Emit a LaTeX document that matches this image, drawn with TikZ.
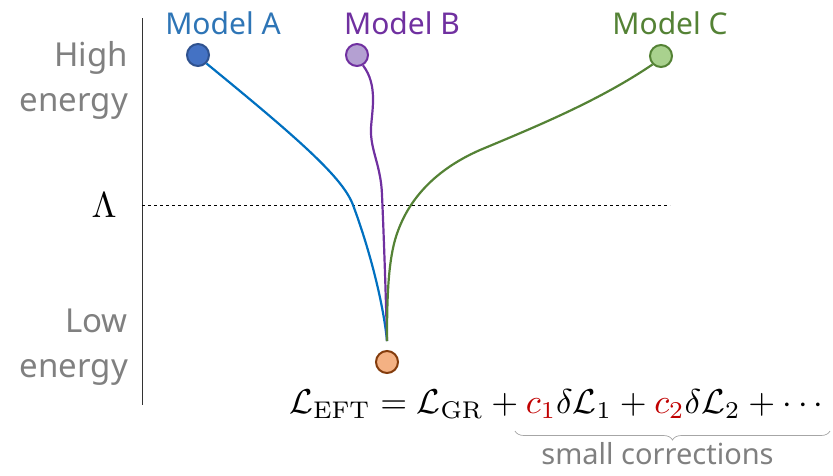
\documentclass[tikz,border=0pt]{standalone}
\usepackage{amsmath,amssymb}
\usepackage[no-math]{fontspec}
\setmainfont{Noto Sans}
\usetikzlibrary{arrows.meta,calc,decorations.pathreplacing,positioning}

\definecolor{modelAblue}{HTML}{2E75B6}
\definecolor{modelAfill}{HTML}{4472C4}
\definecolor{modelAdraw}{HTML}{2F528F}
\definecolor{lineblue}{HTML}{0070C0}
\definecolor{modelBpurple}{HTML}{7030A0}
\definecolor{modelBfill}{HTML}{B4A0D2}
\definecolor{modelCgreen}{HTML}{548235}
\definecolor{modelCfill}{HTML}{A9D18E}
\definecolor{eftfill}{HTML}{F4B183}
\definecolor{eftdraw}{HTML}{843C0C}
\definecolor{labelgray}{HTML}{808080}
\definecolor{coefred}{HTML}{C00000}

\tikzset{
  modeldot/.style={circle,inner sep=0pt,minimum size=22pt,line width=2pt},
  modellabel/.style={font=\fontsize{30}{34}\selectfont,inner sep=0pt},
  energylabel/.style={font=\fontsize{33}{45}\selectfont,text=labelgray,align=right,inner sep=0pt},
  flow/.style={line width=2.2pt}
}

\begin{document}
\begin{tikzpicture}[x=1pt,y=-1pt]
    \useasboundingbox (0,0) rectangle (833,475);

    % Energy axis
    \draw[line width=1pt,black!80] (142,18) -- (142,405);
    \draw[dashed,line width=0.9pt] (142,205) -- (670,205);
    \node[scale=3.6,inner sep=0pt] (cutoff) at (104,205) {$\Lambda$};
    \node[energylabel,anchor=east] (high) at (128,80) {High\\energy};
    \node[energylabel,anchor=east] (low) at (128,347) {Low\\energy};

    % UV models and low-energy point
    \node[modeldot,fill=modelAfill,draw=modelAdraw] (modelA) at (198,55) {};
    \node[modeldot,fill=modelBfill,draw=modelBpurple] (modelB) at (357,55) {};
    \node[modeldot,fill=modelCfill,draw=modelCgreen] (modelC) at (661,56) {};
    \node[modeldot,fill=eftfill,draw=eftdraw] (eft) at (387,362) {};
    \coordinate (conv) at (387,341);

    % Model labels
    \node[modellabel,text=modelAblue] (labelA) at (223,23) {Model A};
    \node[modellabel,text=modelBpurple] (labelB) at (402,23) {Model B};
    \node[modellabel,text=modelCgreen] (labelC) at (670,23) {Model C};

    % Flows to low energy
    \draw[flow,lineblue] (modelA.-45) .. controls (300,140) and (343,178) .. (353,205)
      .. controls (368,245) and (383,300) .. (conv);
    \draw[flow,modelBpurple] (modelB.-60) .. controls (378,85) and (372,110) .. (371,128)
      .. controls (370,150) and (381,165) .. (382,195)
      .. controls (384,240) and (386,300) .. (conv);
    \draw[flow,modelCgreen] (modelC.-135) .. controls (600,100) and (540,125) .. (480,150)
      .. controls (430,172) and (405,205) .. (395,240)
      .. controls (388,265) and (387,300) .. (conv);

    % Effective Lagrangian
    \node[scale=3.45,inner sep=0pt,anchor=base] (eftlag) at (559,413)
      {$\mathcal{L}_{\mathrm{EFT}} = \mathcal{L}_{\mathrm{GR}} + \textcolor{coefred}{c_1}\delta\mathcal{L}_1 + \textcolor{coefred}{c_2}\delta\mathcal{L}_2 + \cdots$};
    \coordinate (braceL) at (515,431);
    \coordinate (braceR) at (830,431);
    \draw[labelgray!70,line width=0.7pt,decorate,decoration={brace,mirror,amplitude=9pt}] (braceL) -- (braceR)
      node[midway,below=11pt,xshift=-15pt,text=labelgray,font=\fontsize{29}{29}\selectfont,inner sep=0pt] (small) {small corrections};
\end{tikzpicture}
\end{document}
